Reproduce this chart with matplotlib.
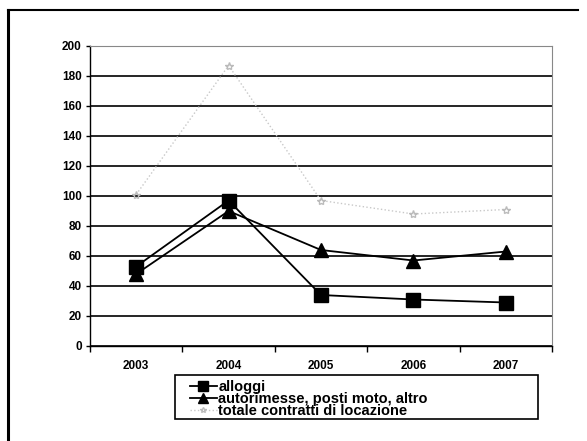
import matplotlib.pyplot as plt
from matplotlib.patches import Rectangle
from matplotlib.lines import Line2D

plt.rcParams['font.family'] = ['Liberation Sans', 'DejaVu Sans']
plt.rcParams['font.weight'] = 'bold'

anni = ['2003', '2004', '2005', '2006', '2007']
alloggi = [53, 97, 34, 31, 29]
autorimesse = [48, 90, 64, 57, 63]
totale = [101, 187, 97, 88, 91]
etichette = ['alloggi', 'autorimesse, posti moto, altro', 'totale contratti di locazione']

W, H = 587, 441
fig = plt.figure(figsize=(W / 100, H / 100), dpi=100)

# cornice esterna (solo lato sinistro e superiore visibili)
fig.add_artist(Line2D([8 / W, 8 / W], [0, 1 - 10 / H], color='black', lw=2.2))
fig.add_artist(Line2D([8 / W, 578 / W], [1 - 10 / H, 1 - 10 / H], color='black', lw=1.5))

ax = fig.add_axes([90 / W, 1 - 346 / H, 462 / W, 300 / H])
x = range(len(anni))
ax.plot(x, totale, color='#c8c8c8', lw=1, ls=':', marker='*', ms=6,
        mfc='none', mec='#bbbbbb', label=etichette[2], zorder=2)
ax.plot(x, alloggi, color='black', lw=1.3, marker='s', ms=10, label=etichette[0], zorder=4)
ax.plot(x, autorimesse, color='black', lw=1.3, marker='^', ms=10, label=etichette[1], zorder=3)

ax.set_xlim(-0.5, len(anni) - 0.5)
ax.set_ylim(0, 200)
ax.set_yticks(range(0, 201, 20))
ax.set_xticks(list(x))
ax.set_xticklabels(anni)
ax.set_xticks([i - 0.5 for i in range(len(anni) + 1)], minor=True)
ax.tick_params(axis='x', which='major', length=0, pad=10, labelsize=8.5)
ax.tick_params(axis='x', which='minor', length=4, width=1, direction='out')
ax.tick_params(axis='y', length=3, width=1, labelsize=8.5, pad=3)
for lab in ax.get_xticklabels() + ax.get_yticklabels():
    lab.set_fontweight('bold')
ax.grid(axis='y', color='black', lw=1.2)
ax.set_axisbelow(True)
for s in ['top', 'right']:
    ax.spines[s].set_color('#888888')
    ax.spines[s].set_linewidth(0.8)
ax.spines['left'].set_linewidth(1.0)
ax.spines['bottom'].set_linewidth(1.0)

# riquadro legenda
fig.add_artist(Rectangle((175 / W, 1 - 419 / H), 363 / W, 44 / H, transform=fig.transFigure,
                         fill=False, edgecolor='black', lw=1.2))
h, l = ax.get_legend_handles_labels()
ordine = [1, 2, 0]
fig.legend([h[i] for i in ordine], [l[i] for i in ordine], loc='upper left',
           bbox_to_anchor=(190 / W, 1 - 380 / H), frameon=False,
           prop={'weight': 'bold', 'size': 10.5}, labelspacing=-0.15,
           handlelength=1.85, handletextpad=0.08, borderpad=0, borderaxespad=0,
           markerscale=0.7)

fig.savefig('out.png', dpi=100)
